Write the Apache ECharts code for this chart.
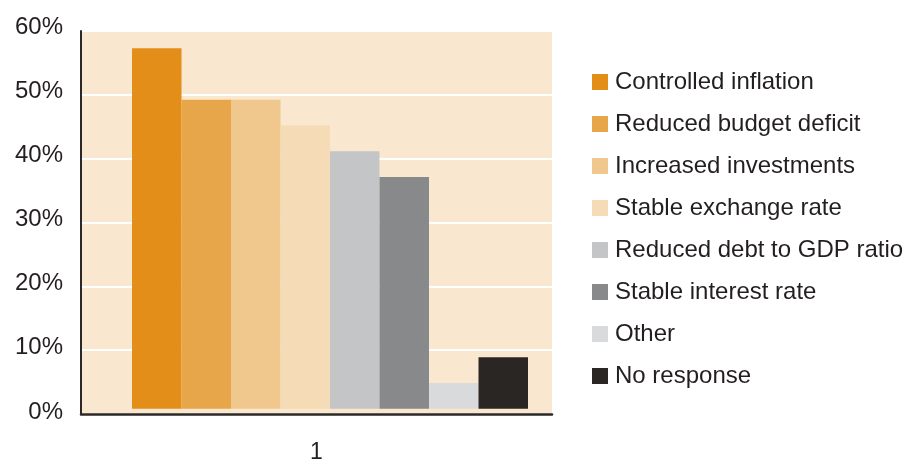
<!DOCTYPE html>
<html>
<head>
<meta charset="utf-8">
<script src="https://cdn.jsdelivr.net/npm/echarts@6/dist/echarts.min.js"></script>
<style>
  html, body { margin: 0; padding: 0; background: #ffffff; }
  #chart { width: 910px; height: 464px; }
</style>
</head>
<body>
<div id="chart"></div>
<script>
// Survey categories, one bar each, all within the single group "1"
const categories = ['1'];
const seriesNames = [
  'Controlled inflation',
  'Reduced budget deficit',
  'Increased investments',
  'Stable exchange rate',
  'Reduced debt to GDP ratio',
  'Stable interest rate',
  'Other',
  'No response'
];
// Share of responses (%) for each series
const seriesValues = [56, 48, 48, 44, 40, 36, 4, 8];
const seriesColors = ['#E48E1A', '#E8A64A', '#F0C78C', '#F6DCB6', '#C4C5C7', '#88898B', '#D9DADC', '#2A2624'];
const yTicks = [0, 10, 20, 30, 40, 50, 60];

const FONT = '"Liberation Sans", Arial, Helvetica, sans-serif';
const TEXT = '#231F20';
const chart = echarts.init(document.getElementById('chart'), null, { renderer: 'canvas' });

const series = seriesNames.map((name, i) => ({
  name: name,
  type: 'bar',
  xAxisIndex: 1,
  yAxisIndex: 1,
  barWidth: 49.5,
  barGap: '0%',
  itemStyle: { color: seriesColors[i] },
  emphasis: { disabled: true },
  data: [seriesValues[i]]
}));

const hiddenCategory = gi => ({
  type: 'category', gridIndex: gi, data: categories,
  axisLine: { show: false }, axisTick: { show: false }, axisLabel: { show: false }
});

chart.setOption({
  animation: false,
  backgroundColor: '#ffffff',
  textStyle: { fontFamily: FONT },
  grid: [
    // framed plot with axes and gridlines
    { left: 81, right: 358, top: 31, bottom: 47, show: true, backgroundColor: '#FAE7D0', borderWidth: 0 },
    // bars sit slightly above the axis baseline and a little right of centre
    { left: 108, right: 358, top: 31, bottom: 47 },
    // tick labels are set a few pixels above their gridlines
    { left: 81, right: 358, top: 27, bottom: 52 }
  ],
  xAxis: [
    {
      type: 'category', gridIndex: 0, data: categories,
      axisLine: { show: true, lineStyle: { color: '#2B2826', width: 2.5 } },
      axisTick: { show: false },
      axisLabel: { color: TEXT, fontSize: 23, fontFamily: FONT, margin: 27 }
    },
    hiddenCategory(1),
    hiddenCategory(2)
  ],
  yAxis: [
    {
      type: 'value', gridIndex: 0, min: yTicks[0], max: yTicks[yTicks.length - 1], interval: 10,
      axisLine: { show: true, lineStyle: { color: '#2B2826', width: 2 } },
      axisTick: { show: false },
      splitLine: { show: true, lineStyle: { color: '#ffffff', width: 2 } },
      axisLabel: { show: false }
    },
    {
      type: 'value', gridIndex: 1, min: -1.3, max: 58.7,
      axisLine: { show: false }, axisTick: { show: false },
      axisLabel: { show: false }, splitLine: { show: false }
    },
    {
      type: 'value', gridIndex: 2, min: yTicks[0], max: yTicks[yTicks.length - 1], interval: 10,
      axisLine: { show: false }, axisTick: { show: false }, splitLine: { show: false },
      axisLabel: {
        color: TEXT, fontSize: 24, fontFamily: FONT, margin: 18,
        formatter: v => v + '%'
      }
    }
  ],
  legend: {
    orient: 'vertical',
    left: 592,
    top: 70,
    padding: 0,
    icon: 'rect',
    itemWidth: 16,
    itemHeight: 16,
    itemGap: 18,
    selectedMode: false,
    textStyle: { color: TEXT, fontSize: 24, fontFamily: FONT, padding: [0, 0, 0, 2] },
    data: seriesNames
  },
  series: series
});
</script>
</body>
</html>
